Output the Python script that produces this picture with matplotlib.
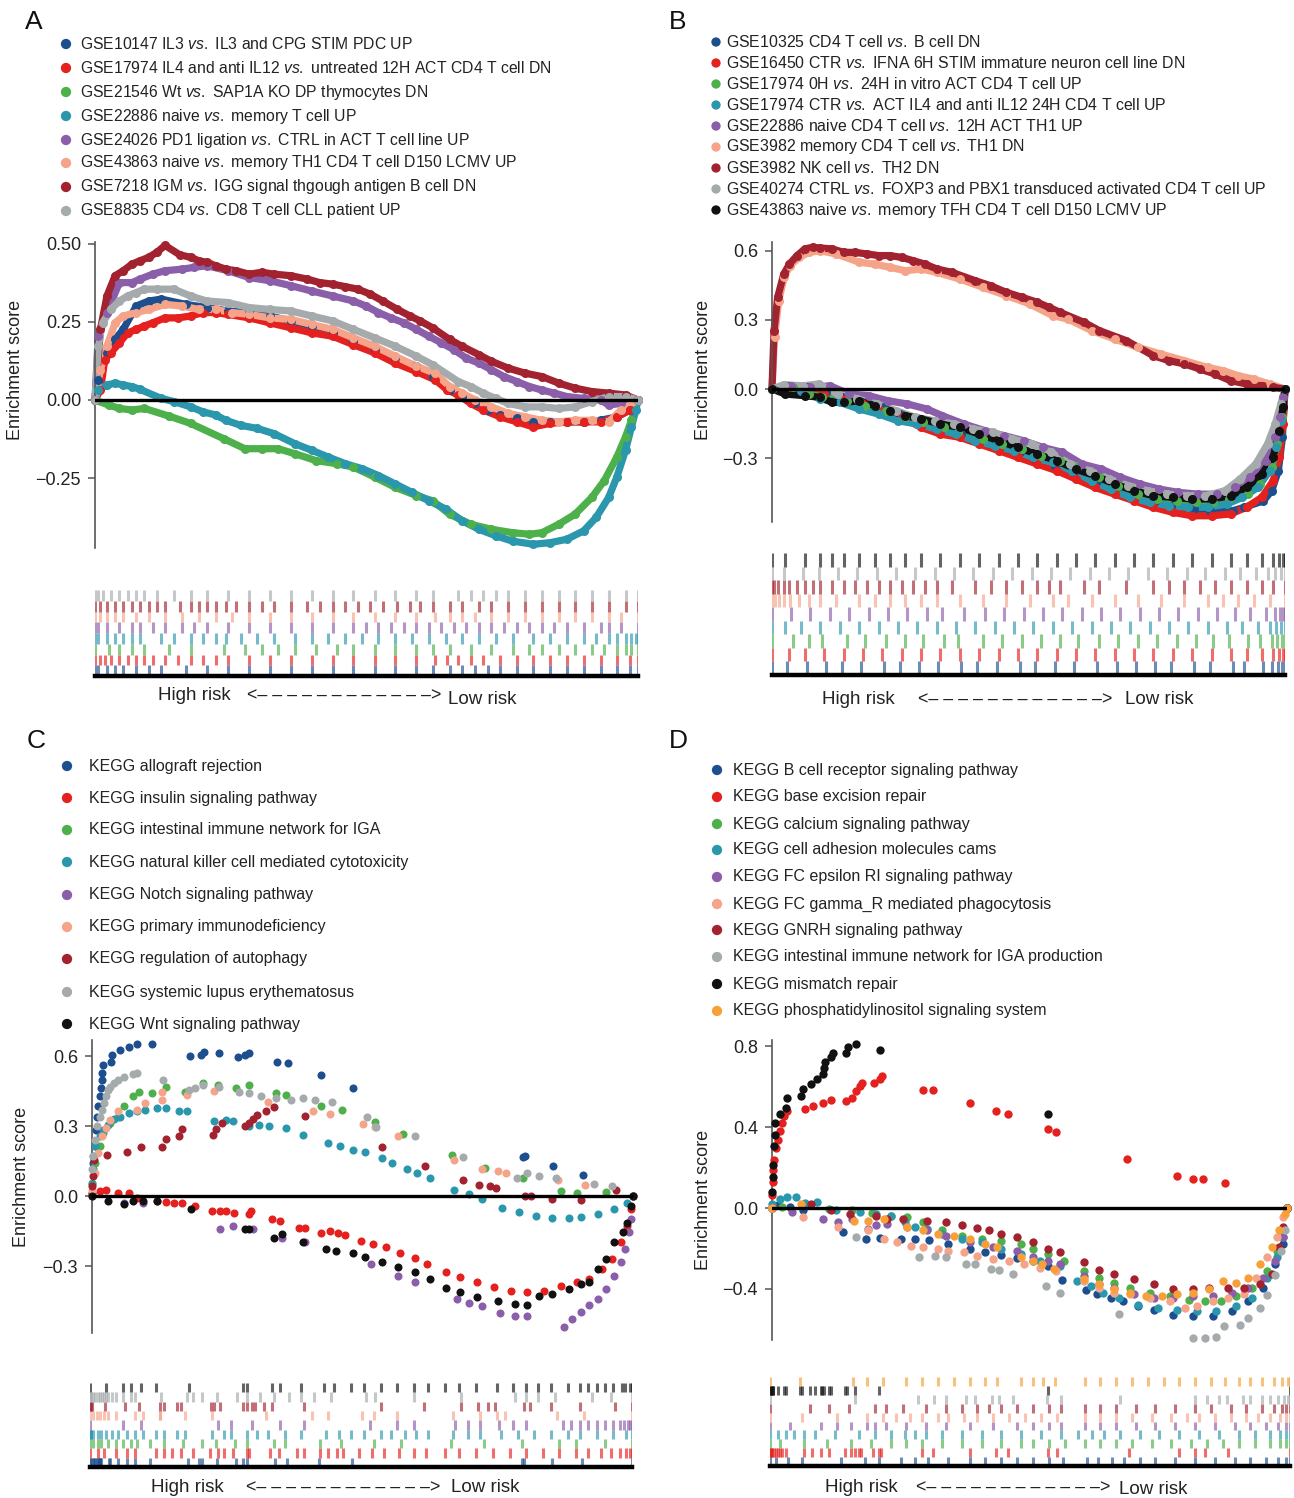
import matplotlib
matplotlib.use('Agg')
import matplotlib.pyplot as plt
import numpy as np

plt.rcParams['font.family'] = ['Liberation Sans', 'DejaVu Sans']
plt.rcParams['mathtext.fontset'] = 'custom'
plt.rcParams['mathtext.rm'] = 'Liberation Sans'
plt.rcParams['mathtext.it'] = 'Liberation Sans:italic'

W, H = 1294, 1498
fig = plt.figure(figsize=(W / 100, H / 100), dpi=100)

BLUE = '#1d4f8f'; RED = '#e4211e'; GREEN = '#4db04a'; TEAL = '#2b97ad'
PURPLE = '#8a5ea8'; SALMON = '#f5a48a'; DARKRED = '#a3222f'; GRAY = '#a5abad'
BLACK = '#111111'; ORANGE = '#f7a03a'

# ---------------- Panel A data ----------------
A_labels = ["GSE10147 IL3 vs. IL3 and CPG STIM PDC UP",
            "GSE17974 IL4 and anti IL12 vs. untreated 12H ACT CD4 T cell DN",
            "GSE21546 Wt vs. SAP1A KO DP thymocytes DN",
            "GSE22886 naive vs. memory T cell UP",
            "GSE24026 PD1 ligation vs. CTRL in ACT T cell line UP",
            "GSE43863 naive vs. memory TH1 CD4 T cell D150 LCMV UP",
            "GSE7218 IGM vs. IGG signal thgough antigen B cell DN",
            "GSE8835 CD4 vs. CD8 T cell CLL patient UP"]
A_colors = [BLUE, RED, GREEN, TEAL, PURPLE, SALMON, DARKRED, GRAY]
A_x = [
    [0, 0.6, 2.2, 3.7, 5.2, 7.6, 9.9, 12.2, 16.8, 20.6, 24.5, 28.4, 32.2, 36.1, 39.9, 43.8, 47.6, 51.5, 55.3, 59.2,
     62.2, 65.3, 67.6, 70.0, 72.3, 74.6, 77.7, 80.7, 83.8, 86.9, 90.0, 93.1, 96.1, 98.5, 100],
    [0, 1.0, 1.8, 2.9, 4.5, 6.0, 7.6, 9.1, 10.6, 12.9, 15.3, 17.6, 19.9, 22.2, 24.5, 28.4, 32.2, 36.1, 39.9, 43.8,
     47.6, 51.5, 55.3, 59.2, 62.6, 64.9, 66.9, 69.2, 71.5, 74.6, 77.7, 80.7, 83.8, 86.9, 90.0, 93.1, 96.1, 98.5, 100],
    [0, 2.5, 4.5, 6.8, 9.1, 13.7, 17.6, 23.7, 27.6, 30.7, 33.7, 36.8, 40.7, 44.5, 47.6, 51.5, 55.3, 59.2, 62.2, 65.3,
     69.2, 73.0, 76.9, 80.0, 82.3, 85.4, 88.4, 91.5, 93.8, 96.1, 97.7, 98.8, 100],
    [0, 0.6, 2.2, 3.7, 5.2, 6.8, 8.3, 12.2, 14.5, 17.6, 19.9, 22.2, 24.1, 26.8, 29.9, 33.0, 36.8, 39.9, 43.0, 46.1,
     49.2, 52.2, 55.3, 58.4, 61.5, 64.6, 67.6, 70.7, 73.8, 76.9, 80.7, 83.8, 86.9, 90.0, 92.3, 94.6, 96.1, 97.7, 98.8,
     99.6, 100],
    [0, 0.6, 2.2, 4.5, 6.8, 8.3, 10.6, 12.9, 16.0, 18.3, 20.6, 24.5, 28.4, 32.2, 36.1, 39.9, 43.8, 47.6, 49.9, 52.2,
     54.5, 56.9, 59.2, 61.5, 63.8, 66.1, 68.4, 70.7, 73.0, 75.3, 77.7, 80.0, 82.3, 84.6, 86.9, 90.0, 93.1, 94.6, 96.9,
     100],
    [0, 1.0, 2.2, 3.7, 5.2, 7.6, 9.9, 12.9, 16.0, 19.1, 22.2, 25.3, 28.4, 32.2, 36.1, 39.9, 43.8, 47.6, 51.5, 55.3,
     59.2, 62.6, 65.3, 67.6, 70.0, 73.0, 76.1, 79.2, 82.3, 85.4, 88.4, 91.5, 94.6, 96.9, 100],
    [0, 1.0, 2.2, 3.7, 5.2, 6.8, 8.3, 9.9, 11.4, 12.9, 15.6, 17.6, 19.1, 20.6, 22.2, 24.1, 26.0, 28.4, 30.7, 33.0,
     36.1, 39.1, 41.4, 43.8, 46.1, 48.4, 50.7, 53.0, 55.7, 58.0, 59.9, 62.2, 65.3, 67.6, 70.7, 73.0, 76.1, 79.2, 82.3,
     85.4, 88.4, 91.5, 94.6, 97.7, 100],
    [0, 0.6, 1.4, 2.9, 4.5, 6.0, 7.6, 9.1, 11.4, 14.5, 17.6, 20.6, 24.5, 28.4, 32.2, 36.1, 39.9, 43.8, 47.6, 51.5,
     55.3, 59.2, 62.2, 66.9, 69.2, 71.5, 73.8, 76.1, 79.2, 82.3, 85.4, 88.4, 91.5, 94.6, 97.7, 100],
]
A_y = [
    [0, 0.065, 0.151, 0.194, 0.226, 0.301, 0.317, 0.323, 0.306, 0.296, 0.285, 0.280, 0.269, 0.253, 0.237, 0.215,
     0.188, 0.161, 0.134, 0.108, 0.075, 0.032, 0.011, -0.011, -0.032, -0.048, -0.059, -0.070, -0.070, -0.070, -0.070,
     -0.065, -0.054, -0.032, 0.0],
    [0, 0.032, 0.129, 0.151, 0.183, 0.215, 0.226, 0.237, 0.247, 0.263, 0.263, 0.269, 0.280, 0.280, 0.274, 0.263,
     0.247, 0.231, 0.215, 0.204, 0.177, 0.151, 0.118, 0.091, 0.065, 0.032, 0.016, -0.011, -0.032, -0.054, -0.070,
     -0.086, -0.075, -0.070, -0.070, -0.070, -0.054, -0.032, 0.0],
    [0, -0.016, -0.027, -0.032, -0.027, -0.052, -0.075, -0.124, -0.156, -0.156, -0.156, -0.172, -0.194, -0.204,
     -0.215, -0.247, -0.280, -0.306, -0.323, -0.366, -0.398, -0.414, -0.425, -0.430, -0.425, -0.398, -0.366, -0.312,
     -0.258, -0.183, -0.118, -0.065, 0.0],
    [0, 0.032, 0.048, 0.054, 0.048, 0.043, 0.034, 0.005, -0.005, -0.022, -0.038, -0.048, -0.065, -0.081, -0.091,
     -0.108, -0.140, -0.161, -0.183, -0.204, -0.220, -0.242, -0.269, -0.296, -0.323, -0.349, -0.387, -0.414, -0.435,
     -0.452, -0.462, -0.457, -0.446, -0.419, -0.376, -0.312, -0.247, -0.161, -0.086, -0.032, 0.0],
    [0, 0.204, 0.280, 0.376, 0.376, 0.387, 0.403, 0.414, 0.419, 0.425, 0.430, 0.414, 0.392, 0.382, 0.366, 0.349,
     0.333, 0.317, 0.301, 0.280, 0.263, 0.247, 0.226, 0.204, 0.183, 0.161, 0.134, 0.118, 0.097, 0.075, 0.059, 0.043,
     0.032, 0.022, 0.011, 0.005, 0.0, -0.016, -0.011, 0.0],
    [0, 0.097, 0.172, 0.247, 0.269, 0.280, 0.290, 0.306, 0.301, 0.290, 0.290, 0.280, 0.274, 0.263, 0.258, 0.242,
     0.226, 0.199, 0.172, 0.140, 0.108, 0.086, 0.043, 0.022, 0.0, -0.022, -0.043, -0.054, -0.065, -0.070, -0.065,
     -0.065, -0.070, -0.032, 0.0],
    [0, 0.226, 0.333, 0.398, 0.414, 0.435, 0.446, 0.457, 0.473, 0.495, 0.465, 0.457, 0.446, 0.441, 0.430, 0.419,
     0.414, 0.403, 0.409, 0.403, 0.398, 0.387, 0.376, 0.371, 0.363, 0.355, 0.339, 0.317, 0.290, 0.269, 0.253, 0.231,
     0.194, 0.172, 0.145, 0.124, 0.102, 0.086, 0.075, 0.054, 0.038, 0.027, 0.022, 0.016, 0.0],
    [0, 0.172, 0.247, 0.290, 0.317, 0.333, 0.344, 0.355, 0.355, 0.355, 0.333, 0.317, 0.312, 0.296, 0.290, 0.285,
     0.269, 0.253, 0.226, 0.199, 0.172, 0.140, 0.113, 0.059, 0.043, 0.022, 0.005, -0.011, -0.022, -0.022, -0.027,
     -0.022, -0.005, 0.011, 0.011, 0.0],
]
A_yticks = [0.50, 0.25, 0.00, -0.25]

# ---------------- Panel B data ----------------
B_labels = ["GSE10325 CD4 T cell vs. B cell DN",
            "GSE16450 CTR vs. IFNA 6H STIM immature neuron cell line DN",
            "GSE17974 0H vs. 24H in vitro ACT CD4 T cell UP",
            "GSE17974 CTR vs. ACT IL4 and anti IL12 24H CD4 T cell UP",
            "GSE22886 naive CD4 T cell vs. 12H ACT TH1 UP",
            "GSE3982 memory CD4 T cell vs. TH1 DN",
            "GSE3982 NK cell vs. TH2 DN",
            "GSE40274 CTRL vs. FOXP3 and PBX1 transduced activated CD4 T cell UP",
            "GSE43863 naive vs. memory TFH CD4 T cell D150 LCMV UP"]
B_colors = [BLUE, RED, GREEN, TEAL, PURPLE, SALMON, DARKRED, GRAY, BLACK]
B_x = [
    [0, 3.0, 6.8, 10.5, 13.6, 17.4, 21.9, 24.9, 28.7, 32.4, 36.9, 40.0, 43.8, 48.3, 51.3, 55.1, 58.8, 63.4, 67.2,
     70.9, 74.7, 77.7, 82.3, 85.3, 89.8, 92.1, 95.8, 97.4, 98.7, 99.5, 100],
    [0, 3.4, 6.4, 10.2, 14.0, 17.7, 21.5, 25.3, 29.1, 32.8, 36.6, 40.4, 44.2, 47.9, 51.7, 55.5, 59.2, 63.0, 66.8,
     70.6, 74.3, 78.1, 81.9, 85.7, 89.4, 92.5, 95.5, 97.7, 98.9, 99.6, 100],
    [0, 4.1, 7.2, 9.8, 14.7, 18.1, 22.3, 26.0, 29.4, 33.6, 36.2, 41.1, 44.9, 48.7, 52.4, 56.2, 59.6, 63.8, 67.5,
     71.3, 75.1, 78.9, 82.6, 86.0, 89.1, 92.8, 95.1, 97.4, 98.5, 99.4, 100],
    [0, 2.6, 5.7, 9.4, 13.2, 17.0, 20.8, 24.5, 28.3, 32.1, 35.8, 39.6, 43.4, 47.2, 50.9, 54.7, 58.5, 62.3, 66.0,
     69.8, 73.6, 77.4, 81.1, 84.9, 88.7, 91.7, 94.7, 97.0, 98.3, 99.3, 100],
    [0, 3.8, 7.5, 11.3, 15.1, 18.9, 22.6, 26.4, 30.2, 33.2, 37.4, 41.5, 45.3, 49.1, 52.8, 56.6, 60.4, 64.2, 67.9,
     71.7, 75.5, 79.2, 83.0, 86.8, 90.2, 93.2, 96.2, 98.1, 99.1, 99.7, 100],
    [0, 0.5, 1.3, 2.4, 3.5, 5.3, 7.2, 9.4, 12.5, 17.0, 20.0, 23.0, 26.0, 29.1, 32.1, 36.6, 41.1, 45.7, 50.2, 54.7,
     57.7, 62.3, 66.8, 71.3, 75.8, 80.4, 84.9, 87.9, 90.9, 93.9, 97.0, 100],
    [0, 0.4, 1.1, 2.3, 3.4, 4.9, 6.4, 7.9, 9.4, 11.7, 14.0, 16.2, 18.5, 20.8, 23.0, 25.3, 27.5, 29.8, 32.1, 35.1,
     39.6, 42.6, 45.7, 48.7, 51.7, 54.0, 56.2, 60.8, 63.8, 69.1, 74.3, 77.4, 80.4, 83.4, 86.4, 89.4, 92.5, 95.5,
     97.7, 100],
    [0, 2.3, 6.0, 9.1, 12.8, 16.6, 20.4, 24.2, 27.9, 31.7, 35.5, 39.2, 43.0, 46.8, 50.6, 54.3, 58.1, 61.9, 65.7,
     69.4, 73.2, 77.0, 80.8, 84.5, 88.3, 91.3, 94.3, 96.6, 98.1, 99.2, 100],
    [0, 2.6, 6.4, 9.4, 11.7, 14.0, 17.0, 20.0, 23.0, 26.0, 29.1, 32.8, 36.6, 40.4, 44.2, 47.9, 51.7, 55.5, 59.2,
     63.0, 66.8, 70.6, 74.3, 78.1, 81.9, 85.7, 89.4, 92.5, 95.5, 97.7, 98.9, 99.6, 100],
]
B_y = [
    [0, 0.014, 0.007, -0.014, -0.036, -0.058, -0.080, -0.109, -0.145, -0.174, -0.196, -0.225, -0.254, -0.275,
     -0.304, -0.333, -0.362, -0.399, -0.428, -0.457, -0.486, -0.507, -0.522, -0.529, -0.529, -0.514, -0.486, -0.442,
     -0.355, -0.210, 0],
    [0, 0.007, -0.007, -0.022, -0.043, -0.065, -0.094, -0.123, -0.167, -0.196, -0.210, -0.239, -0.268, -0.297,
     -0.326, -0.355, -0.391, -0.428, -0.457, -0.486, -0.514, -0.536, -0.551, -0.551, -0.543, -0.514, -0.471, -0.399,
     -0.297, -0.152, 0],
    [0, 0.007, -0.022, -0.036, -0.051, -0.072, -0.094, -0.123, -0.145, -0.167, -0.188, -0.217, -0.239, -0.261,
     -0.290, -0.312, -0.333, -0.384, -0.420, -0.457, -0.478, -0.486, -0.493, -0.493, -0.478, -0.457, -0.413, -0.341,
     -0.239, -0.123, 0],
    [0, 0.007, -0.007, -0.043, -0.058, -0.087, -0.109, -0.138, -0.152, -0.174, -0.196, -0.225, -0.246, -0.268,
     -0.297, -0.319, -0.355, -0.399, -0.435, -0.471, -0.493, -0.507, -0.514, -0.514, -0.500, -0.471, -0.428, -0.355,
     -0.254, -0.138, 0],
    [0, 0.014, 0.007, 0.014, -0.022, -0.029, -0.051, -0.065, -0.087, -0.116, -0.152, -0.181, -0.203, -0.225, -0.254,
     -0.275, -0.326, -0.348, -0.384, -0.413, -0.435, -0.449, -0.457, -0.457, -0.428, -0.384, -0.312, -0.210, -0.123,
     -0.036, 0],
    [0, 0.225, 0.384, 0.486, 0.536, 0.572, 0.594, 0.601, 0.587, 0.551, 0.543, 0.529, 0.514, 0.522, 0.507, 0.478,
     0.442, 0.406, 0.370, 0.319, 0.304, 0.254, 0.217, 0.181, 0.152, 0.123, 0.094, 0.080, 0.058, 0.043, 0.022, 0],
    [0, 0.254, 0.399, 0.500, 0.543, 0.580, 0.609, 0.616, 0.613, 0.609, 0.594, 0.594, 0.587, 0.580, 0.580, 0.572,
     0.558, 0.543, 0.522, 0.507, 0.471, 0.449, 0.420, 0.399, 0.377, 0.355, 0.333, 0.290, 0.254, 0.210, 0.145, 0.123,
     0.109, 0.087, 0.065, 0.036, 0.022, 0.014, 0.007, 0],
    [0, 0.019, 0.014, 0.022, -0.022, -0.043, -0.065, -0.094, -0.123, -0.138, -0.152, -0.174, -0.188, -0.217, -0.239,
     -0.275, -0.326, -0.355, -0.391, -0.420, -0.442, -0.457, -0.464, -0.464, -0.442, -0.391, -0.326, -0.239, -0.152,
     -0.065, 0],
    [0, -0.022, -0.029, -0.036, -0.058, -0.058, -0.051, -0.072, -0.094, -0.116, -0.130, -0.152, -0.167, -0.196,
     -0.225, -0.254, -0.283, -0.312, -0.348, -0.377, -0.413, -0.442, -0.464, -0.471, -0.478, -0.478, -0.464, -0.428,
     -0.370, -0.297, -0.181, -0.080, 0],
]
B_yticks = [0.6, 0.3, 0.0, -0.3]

# ---------------- Panel C data ----------------
C_labels = ["KEGG allograft rejection",
            "KEGG insulin signaling pathway",
            "KEGG intestinal immune network for IGA",
            "KEGG natural killer cell mediated cytotoxicity",
            "KEGG Notch signaling pathway",
            "KEGG primary immunodeficiency",
            "KEGG regulation of autophagy",
            "KEGG systemic lupus erythematosus",
            "KEGG Wnt signaling pathway"]
C_colors = [BLUE, RED, GREEN, TEAL, PURPLE, SALMON, DARKRED, GRAY, BLACK]
C_x = [
    [0, 0.2, 0.5, 0.8, 1.0, 1.2, 1.4, 1.6, 1.8, 1.9, 2.1, 3.5, 3.7, 5.2, 6.8, 8.3, 11.0, 18.1, 20.2, 20.7, 23.5,
     26.9, 28.2, 29.0, 34.2, 36.3, 42.3, 48.3, 79.7, 80.0, 85.3, 90.7, 100],
    [0, 1.4, 2.5, 4.8, 6.8, 8.3, 12.1, 13.7, 15.2, 16.7, 19.0, 22.1, 23.6, 24.8, 26.3, 29.0, 29.4, 33.2, 34.8, 38.2,
     39.4, 42.4, 44.0, 45.5, 46.7, 49.7, 52.0, 54.3, 57.0, 59.7, 62.0, 65.5, 68.1, 71.2, 74.3, 77.4, 80.4, 83.5,
     86.6, 89.6, 91.9, 94.2, 96.2, 97.7, 98.9, 99.7, 100],
    [0, 0.6, 1.4, 2.1, 3.3, 4.8, 6.0, 7.5, 8.7, 11.0, 13.7, 17.1, 20.6, 23.2, 26.7, 29.0, 34.0, 35.9, 42.4, 46.3,
     52.4, 57.4, 66.6, 72.7, 79.7, 86.6, 89.7, 95.0, 100],
    [0, 0.1, 0.2, 0.6, 1.4, 2.1, 2.9, 4.1, 5.2, 6.8, 8.3, 9.8, 12.1, 13.7, 16.0, 17.5, 22.5, 24.8, 26.0, 29.0, 30.9,
     32.8, 35.9, 39.0, 43.6, 45.9, 48.2, 50.5, 53.6, 55.5, 58.2, 60.1, 62.4, 67.0, 69.7, 72.0, 75.8, 78.9, 82.0,
     85.0, 88.1, 90.4, 93.5, 96.5, 98.9, 100],
    [0, 6.0, 9.4, 23.6, 26.0, 29.8, 35.1, 39.4, 51.6, 56.6, 59.7, 67.4, 69.7, 72.0, 75.4, 78.1, 80.4, 87.3, 88.8,
     90.4, 91.9, 93.5, 95.0, 96.5, 97.7, 98.5, 99.2, 99.6, 100],
    [0, 0.6, 1.2, 1.8, 2.5, 3.3, 4.8, 8.3, 9.8, 12.9, 13.0, 17.5, 22.5, 32.5, 40.9, 44.0, 50.1, 52.4, 56.6, 67.0,
     72.0, 75.1, 76.6, 86.2, 91.2, 100],
    [0, 0.2, 0.3, 2.8, 6.4, 9.1, 12.9, 13.7, 16.1, 16.7, 22.3, 22.9, 24.0, 28.2, 29.0, 29.8, 30.5, 32.1, 33.6, 39.4,
     53.6, 61.6, 68.5, 71.6, 73.5, 74.7, 80.0, 81.2, 85.0, 90.4, 96.9, 100],
    [0, 0.2, 0.6, 1.0, 1.4, 1.8, 2.2, 2.5, 2.9, 3.3, 4.1, 4.8, 6.0, 7.5, 8.3, 13.1, 17.9, 19.0, 20.6, 23.5, 27.1,
     29.0, 31.3, 34.0, 36.7, 39.0, 41.3, 44.4, 50.9, 52.5, 59.7, 68.5, 78.5, 80.4, 82.7, 85.8, 92.7, 96.1, 100],
    [0, 2.9, 6.0, 7.5, 9.4, 12.1, 18.3, 28.2, 29.0, 33.6, 35.1, 39.0, 43.2, 45.1, 48.2, 50.5, 53.6, 56.6, 59.7, 62.4,
     65.5, 68.1, 71.2, 75.1, 78.1, 80.4, 82.7, 85.0, 88.1, 90.4, 91.9, 93.5, 95.0, 96.5, 98.1, 98.8, 99.6, 100],
]
C_y = [
    [0.014, 0.142, 0.213, 0.284, 0.341, 0.384, 0.427, 0.462, 0.498, 0.526, 0.562, 0.576, 0.605, 0.626, 0.637, 0.651,
     0.651, 0.600, 0.605, 0.619, 0.612, 0.597, 0.605, 0.612, 0.576, 0.569, 0.519, 0.465, 0.168, 0.171, 0.128, 0.092,
     0],
    [0.007, 0.021, 0.024, 0.014, 0.011, -0.007, -0.021, -0.026, -0.028, -0.031, -0.043, -0.064, -0.064, -0.064,
     -0.071, -0.078, -0.064, -0.100, -0.107, -0.135, -0.139, -0.159, -0.149, -0.159, -0.168, -0.192, -0.206, -0.220,
     -0.245, -0.267, -0.292, -0.327, -0.348, -0.370, -0.391, -0.405, -0.412, -0.405, -0.384, -0.370, -0.356, -0.313,
     -0.270, -0.199, -0.128, -0.057, 0],
    [0.057, 0.142, 0.213, 0.270, 0.313, 0.341, 0.384, 0.427, 0.445, 0.441, 0.469, 0.448, 0.484, 0.477, 0.462, 0.477,
     0.441, 0.434, 0.384, 0.370, 0.316, 0.266, 0.174, 0.121, 0.078, 0.021, 0.014, 0.017, 0],
    [0.050, 0.114, 0.171, 0.213, 0.256, 0.284, 0.306, 0.330, 0.341, 0.356, 0.363, 0.370, 0.377, 0.377, 0.363, 0.363,
     0.320, 0.327, 0.320, 0.299, 0.306, 0.299, 0.292, 0.263, 0.228, 0.213, 0.199, 0.188, 0.164, 0.142, 0.117, 0.100,
     0.078, 0.026, 0.007, -0.014, -0.050, -0.068, -0.085, -0.092, -0.092, -0.088, -0.078, -0.057, -0.028, 0],
    [0, -0.031, -0.028, -0.142, -0.128, -0.142, -0.178, -0.199, -0.292, -0.341, -0.370, -0.441, -0.458, -0.472,
     -0.501, -0.515, -0.515, -0.562, -0.526, -0.498, -0.469, -0.441, -0.398, -0.341, -0.284, -0.228, -0.156, -0.100,
     0],
    [0.028, 0.100, 0.185, 0.256, 0.292, 0.327, 0.363, 0.370, 0.398, 0.410, 0.448, 0.434, 0.452, 0.405, 0.363, 0.353,
     0.309, 0.294, 0.259, 0.156, 0.114, 0.107, 0.100, 0.071, 0.046, 0],
    [0.043, 0.085, 0.156, 0.178, 0.188, 0.211, 0.211, 0.245, 0.256, 0.287, 0.263, 0.287, 0.313, 0.299, 0.313, 0.330,
     0.348, 0.363, 0.381, 0.344, 0.211, 0.131, 0.068, 0.046, 0.043, 0.036, 0, 0, -0.014, -0.017, 0.028, 0],
    [0.114, 0.171, 0.242, 0.299, 0.341, 0.370, 0.398, 0.427, 0.455, 0.469, 0.484, 0.498, 0.512, 0.522, 0.526, 0.498,
     0.455, 0.462, 0.477, 0.469, 0.448, 0.441, 0.430, 0.420, 0.413, 0.420, 0.413, 0.405, 0.339, 0.294, 0.256, 0.166,
     0.078, 0.100, 0.085, 0.078, 0.050, 0.043, 0],
    [0, -0.021, -0.036, -0.021, -0.021, -0.021, -0.057, -0.142, -0.142, -0.178, -0.164, -0.199, -0.225, -0.235,
     -0.245, -0.263, -0.284, -0.306, -0.324, -0.356, -0.395, -0.412, -0.434, -0.448, -0.462, -0.469, -0.427, -0.420,
     -0.398, -0.377, -0.367, -0.313, -0.270, -0.199, -0.156, -0.114, -0.043, 0],
]
C_yticks = [0.6, 0.3, 0.0, -0.3]

# ---------------- Panel D data ----------------
D_labels = ["KEGG B cell receptor signaling pathway",
            "KEGG base excision repair",
            "KEGG calcium signaling pathway",
            "KEGG cell adhesion molecules cams",
            "KEGG FC epsilon RI signaling pathway",
            "KEGG FC gamma_R mediated phagocytosis",
            "KEGG GNRH signaling pathway",
            "KEGG intestinal immune network for IGA production",
            "KEGG mismatch repair",
            "KEGG phosphatidylinositol signaling system"]
D_colors = [BLUE, RED, GREEN, TEAL, PURPLE, SALMON, DARKRED, GRAY, BLACK, ORANGE]
D_x = [
    [0, 1.1, 3.4, 6.1, 13.7, 18.3, 20.9, 25.1, 27.8, 30.4, 34.2, 38.4, 41.4, 44.5, 47.5, 50.6, 53.6, 56.3, 60.9,
     63.1, 65.8, 68.1, 71.1, 74.1, 77.9, 81.7, 85.6, 89.4, 92.4, 95.4, 97.7, 99.2, 100],
    [0, 0.1, 0.2, 0.3, 0.8, 1.1, 1.5, 1.9, 2.3, 3.0, 6.5, 8.0, 9.9, 11.4, 14.4, 15.6, 16.3, 17.1, 17.5, 19.8, 20.9,
     21.4, 29.3, 31.3, 38.4, 43.5, 45.8, 53.5, 55.1, 69.0, 78.7, 81.7, 83.7, 88.0, 100],
    [0, 1.9, 6.5, 11.0, 15.6, 19.4, 23.2, 26.2, 29.3, 33.1, 36.9, 40.7, 44.5, 48.3, 50.6, 53.6, 56.7, 60.5, 63.5,
     66.5, 69.6, 73.4, 77.2, 81.0, 84.0, 87.1, 90.1, 93.2, 96.2, 98.1, 99.2, 100],
    [0, 1.5, 3.0, 4.6, 6.5, 8.7, 12.5, 17.1, 20.2, 23.2, 25.9, 27.8, 30.0, 33.1, 36.9, 40.7, 44.5, 48.3, 52.1, 55.9,
     59.3, 62.0, 64.3, 67.3, 71.1, 74.9, 78.7, 82.5, 86.3, 90.1, 93.2, 96.2, 98.1, 99.2, 100],
    [0, 3.8, 9.9, 12.9, 15.6, 18.6, 20.2, 22.4, 26.2, 30.0, 33.8, 38.4, 42.9, 47.5, 50.6, 53.6, 55.9, 60.5, 63.5,
     66.5, 70.3, 74.1, 77.9, 81.7, 85.6, 89.4, 92.4, 95.4, 97.7, 99.2, 100],
    [0, 6.1, 12.9, 18.6, 21.7, 24.3, 27.0, 29.3, 32.3, 34.2, 37.3, 39.9, 42.9, 46.0, 49.0, 52.1, 55.1, 60.5, 63.5,
     66.5, 69.6, 73.4, 77.2, 80.2, 82.5, 85.6, 88.6, 91.6, 93.9, 96.2, 98.1, 99.2, 100],
    [0, 7.6, 11.4, 15.2, 20.2, 22.4, 25.5, 30.0, 33.8, 36.9, 39.9, 42.2, 44.5, 47.5, 50.6, 53.6, 55.9, 60.5, 63.5,
     66.5, 70.3, 74.1, 77.9, 81.7, 84.8, 88.6, 91.6, 94.7, 97.0, 98.5, 99.2, 100],
    [0, 16.3, 28.5, 31.6, 33.8, 37.6, 39.5, 42.6, 44.1, 46.8, 53.2, 55.9, 67.3, 81.7, 84.0, 86.3, 87.8, 90.9, 92.4,
     94.7, 96.2, 97.7, 98.9, 99.6, 100],
    [0, 0.1, 0.2, 0.3, 0.5, 0.6, 1.5, 2.7, 3.0, 5.7, 6.1, 7.6, 8.7, 9.9, 10.0, 10.3, 11.4, 11.8, 14.4, 14.8, 16.3,
     20.9, 53.5, 100],
    [0, 5.7, 16.0, 18.6, 21.7, 26.2, 29.3, 32.3, 35.4, 38.4, 41.4, 43.7, 48.3, 50.6, 52.5, 54.8, 60.5, 63.5, 66.5,
     69.6, 72.6, 75.7, 78.7, 81.7, 84.8, 87.5, 90.1, 92.4, 94.7, 97.0, 98.5, 99.6, 100],
]
D_y = [
    [0, 0.013, 0.005, -0.012, -0.120, -0.153, -0.148, -0.153, -0.153, -0.158, -0.178, -0.203, -0.219, -0.231,
     -0.248, -0.261, -0.286, -0.357, -0.407, -0.427, -0.444, -0.460, -0.485, -0.502, -0.527, -0.535, -0.535, -0.510,
     -0.460, -0.394, -0.277, -0.178, 0],
    [0.063, 0.130, 0.188, 0.238, 0.296, 0.337, 0.379, 0.420, 0.453, 0.478, 0.490, 0.503, 0.520, 0.533, 0.528, 0.545,
     0.578, 0.603, 0.619, 0.619, 0.636, 0.653, 0.583, 0.583, 0.520, 0.478, 0.462, 0.390, 0.374, 0.244, 0.158, 0.143,
     0.143, 0.123, 0],
    [0, 0.005, 0.022, -0.003, -0.012, -0.025, -0.037, -0.045, -0.070, -0.111, -0.136, -0.153, -0.161, -0.178,
     -0.203, -0.228, -0.261, -0.311, -0.344, -0.369, -0.394, -0.419, -0.435, -0.452, -0.460, -0.460, -0.435, -0.394,
     -0.311, -0.211, -0.111, 0],
    [0.022, 0.047, 0.055, 0.055, 0.025, 0.030, -0.012, -0.020, -0.028, -0.037, -0.070, -0.095, -0.103, -0.128,
     -0.153, -0.169, -0.203, -0.228, -0.261, -0.286, -0.360, -0.385, -0.419, -0.444, -0.477, -0.493, -0.502, -0.510,
     -0.507, -0.485, -0.444, -0.344, -0.244, -0.145, 0],
    [0, -0.020, -0.053, -0.070, -0.053, -0.103, -0.086, -0.078, -0.095, -0.111, -0.136, -0.169, -0.194, -0.211,
     -0.244, -0.261, -0.277, -0.336, -0.377, -0.394, -0.427, -0.444, -0.444, -0.435, -0.435, -0.419, -0.394, -0.344,
     -0.261, -0.145, 0],
    [0, -0.045, -0.095, -0.111, -0.153, -0.169, -0.186, -0.194, -0.203, -0.211, -0.219, -0.236, -0.252, -0.261,
     -0.277, -0.297, -0.311, -0.360, -0.394, -0.419, -0.427, -0.444, -0.460, -0.493, -0.485, -0.460, -0.444, -0.427,
     -0.344, -0.244, -0.145, -0.045, 0],
    [0, 0.018, -0.012, -0.028, -0.037, -0.053, -0.053, -0.066, -0.070, -0.083, -0.098, -0.111, -0.128, -0.145,
     -0.169, -0.203, -0.219, -0.269, -0.307, -0.327, -0.352, -0.377, -0.402, -0.402, -0.394, -0.394, -0.394, -0.377,
     -0.327, -0.194, -0.095, 0],
    [0, -0.145, -0.244, -0.236, -0.244, -0.277, -0.277, -0.302, -0.307, -0.327, -0.385, -0.419, -0.523, -0.643,
     -0.643, -0.635, -0.585, -0.578, -0.545, -0.495, -0.429, -0.329, -0.211, -0.111, 0],
    [0.080, 0.154, 0.213, 0.304, 0.362, 0.420, 0.462, 0.495, 0.545, 0.553, 0.590, 0.611, 0.636, 0.661, 0.694, 0.719,
     0.744, 0.766, 0.766, 0.794, 0.811, 0.782, 0.462, 0],
    [0, 0.022, -0.065, -0.065, -0.053, -0.095, -0.111, -0.128, -0.136, -0.153, -0.178, -0.194, -0.244, -0.261,
     -0.277, -0.302, -0.352, -0.377, -0.402, -0.419, -0.435, -0.435, -0.427, -0.419, -0.402, -0.360, -0.369, -0.344,
     -0.277, -0.194, -0.111, -0.028, 0],
]
D_yticks = [0.8, 0.4, 0.0, -0.4]

# ---------------- helpers ----------------
ov = fig.add_axes([0, 0, 1, 1])
ov.set_xlim(0, W); ov.set_ylim(H, 0); ov.axis('off')


def px_axes(l, t, r, b):
    return fig.add_axes([l / W, 1 - b / H, (r - l) / W, (b - t) / H])


def fmt_tick(v, nd):
    s = f"{v:.{nd}f}"
    return s.replace('-', '\u2212')


def es_panel(box, xs, ys, colors, ylim, yticks, nd, ms, connect):
    ax = px_axes(*box)
    for x, y, c in zip(xs, ys, colors):
        n = min(len(x), len(y))
        x = np.asarray(x[:n], float); y = np.asarray(y[:n], float)
        if connect:
            ax.plot(x, y, '-', color=c, lw=ms * 0.8, solid_capstyle='round', solid_joinstyle='round',
                    clip_on=False, zorder=2)
        ax.plot(x, y, 'o', color=c, ms=ms, mew=0, clip_on=False, zorder=3)
    ax.axhline(0, color='black', lw=2.4, zorder=5)
    ax.set_xlim(0, 100)
    ax.set_ylim(*ylim)
    for s in ['top', 'right', 'bottom']:
        ax.spines[s].set_visible(False)
    ax.spines['left'].set_color('#555555')
    ax.spines['left'].set_linewidth(1.2)
    ax.set_xticks([])
    ax.set_yticks(yticks)
    ax.set_yticklabels([fmt_tick(v, nd) for v in yticks])
    ax.tick_params(axis='y', length=5, width=1.1, color='#555555', labelsize=13, pad=5, labelcolor='#222222')
    ax.patch.set_alpha(0)
    return ax


def rug_panel(box, xs, colors):
    ax = px_axes(*box)
    n = len(xs)
    for i, (x, c) in enumerate(zip(xs, colors)):
        ax.vlines(x, i, i + 1, color=c, lw=2.2, alpha=0.65)
    ax.set_xlim(0, 100)
    ax.set_ylim(0, n)
    ax.axis('off')
    ax.axhline(0, color='black', lw=3.2, clip_on=False)
    return ax


def legend(xm, xt, ys, labels, colors, fs=11.5, s=55):
    for y, lab, c in zip(ys, labels, colors):
        ov.scatter([xm], [y], s=s, color=c, edgecolors='none')
        ov.text(xt, y, lab.replace('vs.', r'$\mathit{vs.}$'), ha='left', va='center', fontsize=fs,
                color='#222222')


def risk_label(xh, xa, xl, y, yl):
    ov.text(xh, y, 'High risk', ha='left', va='center', fontsize=13.5, color='#222222')
    ov.text(xa, y, '<' + ' '.join(['\u2013'] * 12) + '>', ha='left', va='center', fontsize=12.8,
            color='#222222')
    ov.text(xl, yl, 'Low risk', ha='left', va='center', fontsize=13.5, color='#222222')


# ---------------- Panel A ----------------
ov.text(34, 22, 'A', ha='center', va='center', fontsize=19, color='#111111')
legend(66, 80, [44, 68, 92, 116, 140, 163, 187, 211], A_labels, A_colors, fs=11.3)
es_panel((95, 242, 638, 548), A_x, A_y, A_colors, (-0.474, 0.506), A_yticks, 2, 6.5, True)
ov.text(16, 370, 'Enrichment score', rotation=90, ha='center', va='center', fontsize=13, color='#222222')
rug_panel((95, 590, 638, 676), A_x, A_colors)
risk_label(158, 247, 448, 695, 699)

# ---------------- Panel B ----------------
ov.text(678, 22, 'B', ha='center', va='center', fontsize=19, color='#111111')
legend(716, 726, [42, 63, 84, 105, 126, 147, 168, 189, 210], B_labels, B_colors, fs=11.4, s=45)
es_panel((772, 242, 1285, 522), B_x, B_y, B_colors, (-0.578, 0.639), B_yticks, 1, 6.5, True)
ov.text(703, 370, 'Enrichment score', rotation=90, ha='center', va='center', fontsize=13, color='#222222')
rug_panel((772, 553, 1285, 675), B_x, B_colors)
risk_label(822, 918, 1125, 699, 699)

# ---------------- Panel C ----------------
ov.text(36, 741, 'C', ha='center', va='center', fontsize=19, color='#111111')
legend(67, 89, [766, 798, 830, 862, 895, 927, 959, 992, 1024], C_labels, C_colors)
es_panel((92, 1040, 633, 1333), C_x, C_y, C_colors, (-0.587, 0.669), C_yticks, 1, 5.8, False)
ov.text(22, 1177, 'Enrichment score', rotation=90, ha='center', va='center', fontsize=13, color='#222222')
rug_panel((90, 1383, 632, 1467), C_x, C_colors)
risk_label(151, 246, 451, 1487, 1487)

# ---------------- Panel D ----------------
ov.text(678, 741, 'D', ha='center', va='center', fontsize=19, color='#111111')
legend(717, 733, [770, 797, 824, 850, 877, 904, 930, 957, 984, 1011], D_labels, D_colors)
es_panel((772, 1040, 1287, 1340), D_x, D_y, D_colors, (-0.652, 0.830), D_yticks, 1, 6.0, False)
ov.text(703, 1200, 'Enrichment score', rotation=90, ha='center', va='center', fontsize=13, color='#222222')
rug_panel((770, 1377, 1290, 1466), D_x, D_colors)
risk_label(825, 916, 1119, 1487, 1489)

fig.savefig('out.png', dpi=100)
